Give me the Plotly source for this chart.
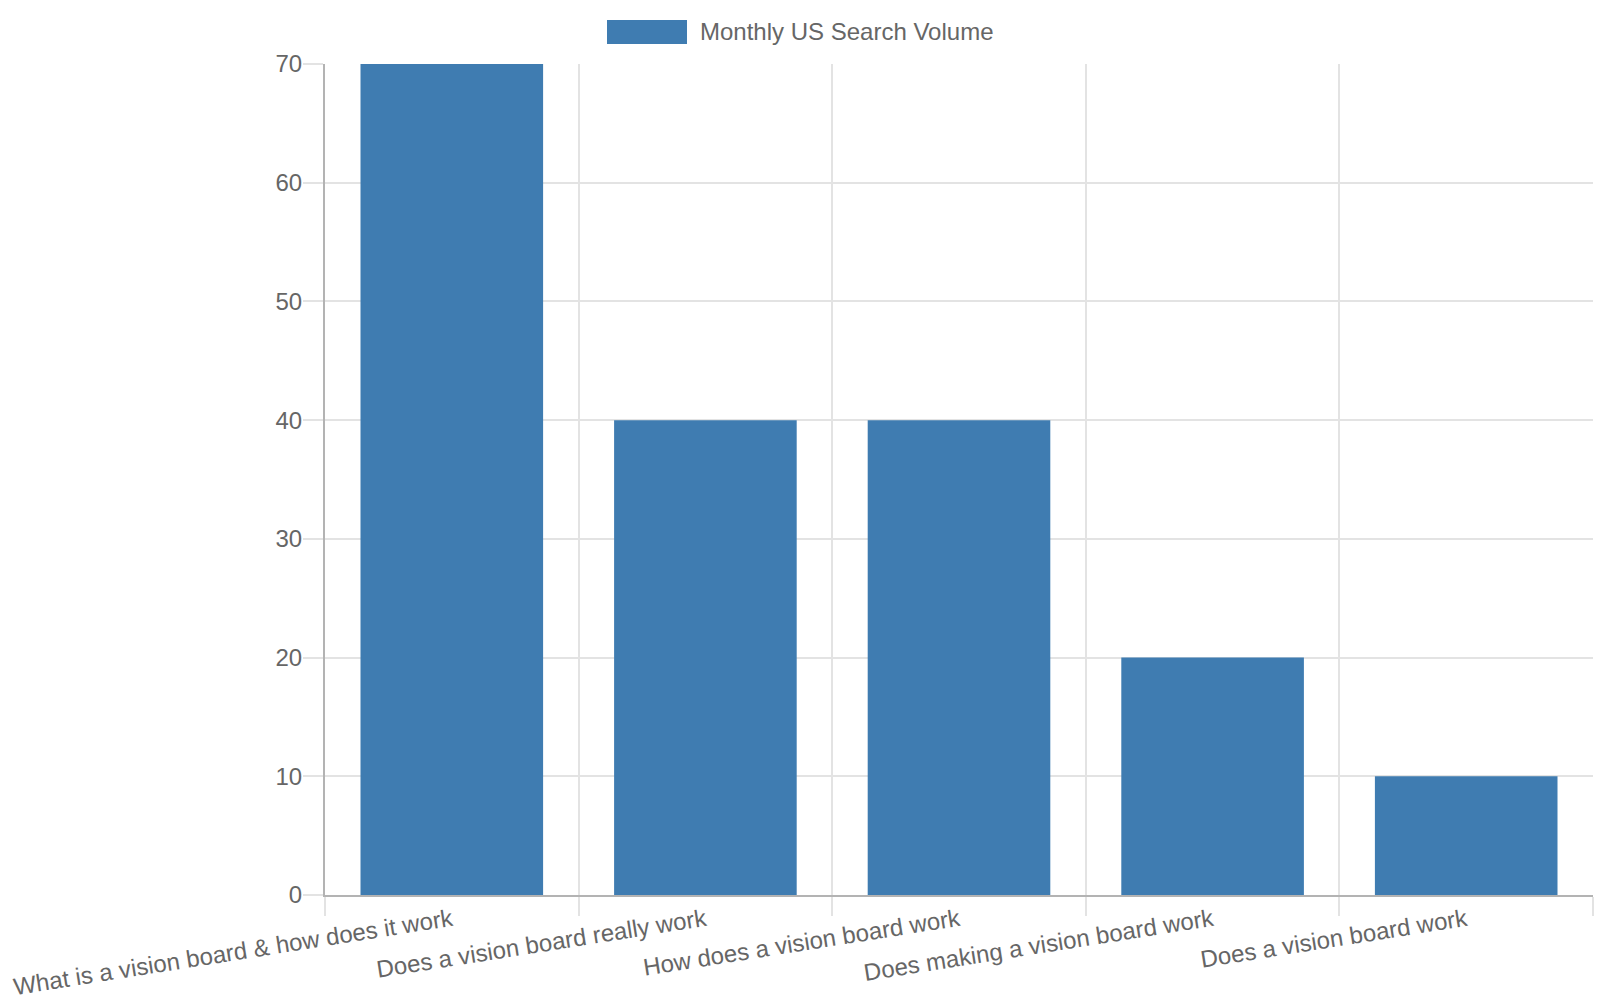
import plotly.graph_objects as go

categories = [
    "What is a vision board & how does it work",
    "Does a vision board really work",
    "How does a vision board work",
    "Does making a vision board work",
    "Does a vision board work",
]
values = [70, 40, 40, 20, 10]
series_name = "Monthly US Search Volume"
y_ticks = [0, 10, 20, 30, 40, 50, 60, 70]

BAR = "#3f7cb1"
TXT = "#666666"
GRID = "#e3e3e3"
AXIS = "#b3b3b3"
FONT = "Liberation Sans, Arial, Helvetica, sans-serif"

L, R, T, B = 325, 7, 64, 105
W, H = 1600, 1000
pw, ph = W - L - R, H - T - B

def px(x):
    return (x - L) / pw

def py(y):
    return (H - B - y) / ph

fig = go.Figure(go.Bar(
    x=categories, y=values, name=series_name,
    marker=dict(color=BAR, line=dict(width=0)),
    showlegend=False,
))

fig.update_layout(
    width=W, height=H,
    margin=dict(l=L, r=R, t=T, b=B, pad=0, autoexpand=False),
    paper_bgcolor="white", plot_bgcolor="white",
    bargap=0.28,
    font=dict(family=FONT, size=24, color=TXT),
    shapes=[dict(type="rect", xref="paper", yref="paper",
                 x0=px(607), x1=px(687), y0=py(44), y1=py(20),
                 fillcolor=BAR, line=dict(width=0))],
    annotations=[dict(text=series_name, xref="paper", yref="paper",
                      x=px(698), y=py(32), xanchor="left", yanchor="middle",
                      showarrow=False, font=dict(size=24, color=TXT, family=FONT))],
)

fig.update_xaxes(
    type="category", tickson="boundaries", automargin=False,
    showgrid=True, gridcolor=GRID, gridwidth=2,
    ticks="outside", ticklen=19, tickcolor=GRID, tickwidth=2,
    showline=True, linecolor=AXIS, linewidth=2,
    tickangle=-9, tickfont=dict(size=24, color=TXT),
    zeroline=False,
)
fig.update_yaxes(
    range=[0, 70], tickvals=y_ticks, automargin=False,
    showgrid=True, gridcolor=GRID, gridwidth=2,
    ticks="outside", ticklen=20, tickcolor=GRID, tickwidth=2,
    showline=True, linecolor=AXIS, linewidth=2,
    tickfont=dict(size=24, color=TXT), ticklabelstandoff=-4,
    zeroline=False,
)

fig.write_html("out.html")
